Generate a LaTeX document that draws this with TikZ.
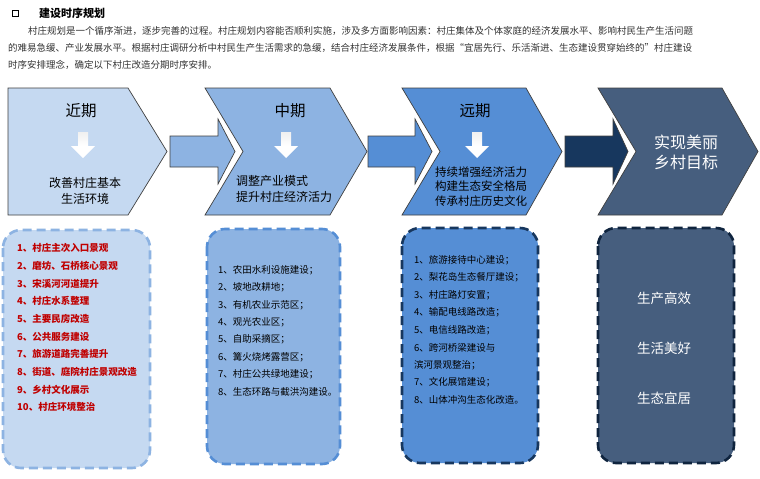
\documentclass[tikz,border=0pt]{standalone}
\usepackage{fontspec}
\setmainfont{Noto Sans CJK SC}
\definecolor{cA}{HTML}{C5D9F1}
\definecolor{cB}{HTML}{8DB3E2}
\definecolor{cC}{HTML}{558ED5}
\definecolor{cD}{HTML}{17375E}
\definecolor{cE}{HTML}{465E7E}
\definecolor{cEd}{HTML}{0F243E}
\definecolor{redtxt}{HTML}{C00000}
\definecolor{outl}{HTML}{404040}
\begin{document}
\begin{tikzpicture}[x=1pt,y=-1pt,
  chev/.style={draw=outl,line width=0.7pt},
  barrow/.style={draw=outl,line width=0.7pt},
  dbox/.style={line width=2.6pt,dash pattern=on 9pt off 5pt,rounded corners=18pt},
  para/.style={anchor=west,inner sep=0pt,font=\fontsize{9.5}{11}\selectfont,text=black!80},
  ttl/.style={inner sep=0pt,font=\fontsize{15.5}{18}\selectfont},
  sub/.style={inner sep=0pt,font=\fontsize{12}{16}\selectfont,align=center},
  item/.style={anchor=west,inner sep=0pt,font=\fontsize{9.5}{11}\selectfont},
  downarr/.style={fill=white,draw=none}
]
\useasboundingbox (0,0) rectangle (760,479);
\fill[white] (0,0) rectangle (760,479);

% header
\draw[line width=1.2pt] (12.5,10.5) rectangle (18.5,16.5);
\node[anchor=west,inner sep=0pt,font=\fontsize{11}{13}\selectfont\bfseries] (title) at (39,13.5) {建设时序规划};
\node[para] (p1) at (28,31) {村庄规划是一个循序渐进，逐步完善的过程。村庄规划内容能否顺利实施，涉及多方面影响因素：村庄集体及个体家庭的经济发展水平、影响村民生产生活问题};
\node[para] (p2) at (8,48) {的难易急缓、产业发展水平。根据村庄调研分析中村民生产生活需求的急缓，结合村庄经济发展条件，根据“宜居先行、乐活渐进、生态建设贯穿始终的”村庄建设};
\node[para] (p3) at (8,65) {时序安排理念，确定以下村庄改造分期时序安排。};

% chevrons
\draw[chev,fill=cA] (8,88) -- (128,88) -- (167,151.5) -- (128,215) -- (8,215) -- cycle;
\draw[chev,fill=cB] (205,88) -- (330,88) -- (367,151.5) -- (330,215) -- (205,215) -- (243,151.5) -- cycle;
\draw[chev,fill=cC] (402,88) -- (526,88) -- (562,151.5) -- (526,215) -- (402,215) -- (440,151.5) -- cycle;
\draw[chev,fill=cE] (598,88) -- (722,88) -- (758,151.5) -- (722,215) -- (598,215) -- (636,151.5) -- cycle;

% block arrows
\draw[barrow,fill=cB] (170,136) -- (218,136) -- (218,119) -- (235,151.5) -- (218,184) -- (218,167) -- (170,167) -- cycle;
\draw[barrow,fill=cC] (368,136) -- (415,136) -- (415,119) -- (432,151.5) -- (415,184) -- (415,167) -- (368,167) -- cycle;
\draw[barrow,fill=cD] (565,136) -- (613,136) -- (613,119) -- (628,151.5) -- (613,184) -- (613,167) -- (565,167) -- cycle;

% small white down arrows
\foreach \cx in {83,286,477}{
  \shade[top color=white!88!gray,bottom color=white] (\cx-5,132) -- (\cx+5,132) -- (\cx+5,146) -- (\cx-5,146) -- cycle;
  \fill[white] (\cx-5,145.5) -- (\cx+5,145.5) -- (\cx+5,146) -- (\cx+12,146) -- (\cx,158) -- (\cx-12,146) -- (\cx-5,146) -- cycle;
}

% chevron texts
\node[ttl] (t1) at (81,111) {近期};
\node[ttl] (t2) at (290,111) {中期};
\node[ttl] (t3) at (475,111) {远期};
\node[sub] (s1) at (85,190.5) {改善村庄基本\\生活环境};
\node[sub,align=left,anchor=west] (s2) at (236,188.5) {调整产业模式\\提升村庄经济活力};
\node[inner sep=0pt,align=center,font=\fontsize{11.5}{14.5}\selectfont] (s3) at (481,186.5) {持续增强经济活力\\构建生态安全格局\\传承村庄历史文化};
\node[inner sep=0pt,align=center,text=white,font=\fontsize{16}{19.5}\selectfont] (s4) at (686,152.5) {实现美丽\\乡村目标};

% dashed boxes
\draw[dbox,draw=cB,fill=cA] (3,230) rectangle (150,468);
\draw[dbox,draw=cC,fill=cB] (207,229) rectangle (340,464);
\draw[dbox,draw=cD,fill=cC] (402,228) rectangle (538,463);
\draw[dbox,draw=cEd,fill=cE] (598,228) rectangle (734,463);

% box 1 items
\begin{scope}[every node/.style={item,text=redtxt,font=\fontsize{9.5}{11}\selectfont\bfseries}]
\node (a1) at (17,248) {1、村庄主次入口景观};
\node (a2) at (17,265.7) {2、磨坊、石桥核心景观};
\node (a3) at (17,283.4) {3、宋溪河河道提升};
\node (a4) at (17,301.1) {4、村庄水系整理};
\node (a5) at (17,318.8) {5、主要民房改造};
\node (a6) at (17,336.5) {6、公共服务建设};
\node (a7) at (17,354.2) {7、旅游道路完善提升};
\node (a8) at (17,371.9) {8、街道、庭院村庄景观改造};
\node (a9) at (17,389.6) {9、乡村文化展示};
\node (a10) at (17,407.3) {10、村庄环境整治};
\end{scope}

% box 2 items
\begin{scope}[every node/.style={item}]
\node (b1) at (218,270) {1、农田水利设施建设；};
\node (b2) at (218,287.4) {2、坡地改耕地；};
\node (b3) at (218,304.8) {3、有机农业示范区；};
\node (b4) at (218,322.2) {4、观光农业区；};
\node (b5) at (218,339.6) {5、自助采摘区；};
\node (b6) at (218,357) {6、篝火烧烤露营区；};
\node (b7) at (218,374.4) {7、村庄公共绿地建设；};
\node (b8) at (218,391.8) {8、生态环路与截洪沟建设。};
\end{scope}

% box 3 items
\begin{scope}[every node/.style={item}]
\node (c1) at (414,260) {1、旅游接待中心建设；};
\node (c2) at (414,277.5) {2、梨花岛生态餐厅建设；};
\node (c3) at (414,295) {3、村庄路灯安置；};
\node (c4) at (414,312.5) {4、输配电线路改造；};
\node (c5) at (414,330) {5、电信线路改造；};
\node (c6) at (414,347.5) {6、跨河桥梁建设与};
\node (c6b) at (414,365) {滨河景观整治；};
\node (c7) at (414,382.5) {7、文化展馆建设；};
\node (c8) at (414,400) {8、山体冲沟生态化改造。};
\end{scope}

% box 4 items
\begin{scope}[every node/.style={inner sep=0pt,text=white,font=\fontsize{13.5}{16}\selectfont}]
\node (d1) at (664,298) {生产高效};
\node (d2) at (664,348) {生活美好};
\node (d3) at (664,398) {生态宜居};
\end{scope}
\end{tikzpicture}
\end{document}
